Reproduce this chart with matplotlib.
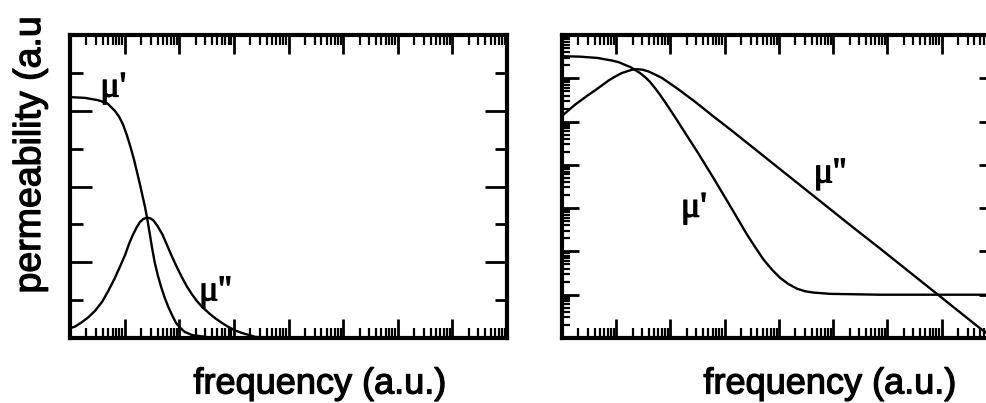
import numpy as np
import matplotlib.pyplot as plt
import matplotlib.patheffects as pe
from matplotlib.ticker import LogLocator, MultipleLocator, NullFormatter

# left panel: log10(frequency) and permeability (linear, a.u.)
left_logf_re = [0.0, 0.27, 0.51, 0.68, 0.82, 0.90, 0.97, 1.04, 1.10, 1.17, 1.23,
                1.28, 1.32, 1.37, 1.41, 1.45, 1.50, 1.55, 1.61, 1.67, 1.74, 1.80,
                1.87, 1.94, 2.01, 2.10, 2.23, 2.53, 3.11, 8.0]
left_mu_re = [3.18, 3.17, 3.14, 3.10, 3.00, 2.92, 2.82, 2.68, 2.54, 2.36, 2.18,
              2.03, 1.90, 1.74, 1.59, 1.42, 1.20, 1.00, 0.82, 0.67, 0.52, 0.41,
              0.30, 0.20, 0.14, 0.08, 0.04, 0.01, 0.0, 0.0]

left_logf_im = [0.0, 0.09, 0.20, 0.33, 0.46, 0.59, 0.70, 0.82, 0.92, 1.01, 1.09,
                1.15, 1.22, 1.28, 1.34, 1.41, 1.47, 1.53, 1.60, 1.69, 1.78, 1.87,
                1.96, 2.05, 2.14, 2.23, 2.32, 2.42, 2.54, 2.66, 2.78, 2.89, 3.02,
                3.15, 3.39, 3.66, 8.0]
left_mu_im = [0.13, 0.15, 0.20, 0.27, 0.36, 0.48, 0.62, 0.79, 0.95, 1.10, 1.26,
              1.36, 1.46, 1.53, 1.57, 1.59, 1.58, 1.55, 1.48, 1.37, 1.22, 1.07,
              0.93, 0.80, 0.68, 0.58, 0.49, 0.41, 0.33, 0.26, 0.20, 0.15, 0.10,
              0.066, 0.015, 0.0, 0.0]

# right panel: log10(frequency) and log10(permeability)
right_logf_re = [0.0, 0.33, 0.65, 0.92, 1.05, 1.16, 1.26, 1.35, 1.44, 1.53, 1.62,
                 1.71, 1.80, 1.90, 2.08, 2.32, 2.51, 2.78, 3.10, 3.41, 3.56, 3.71,
                 3.87, 4.02, 4.17, 4.33, 4.48, 4.63, 4.94, 5.86, 8.0]
right_logmu_re = [6.51, 6.50, 6.47, 6.41, 6.37, 6.31, 6.26, 6.19, 6.12, 6.03, 5.92,
                  5.78, 5.63, 5.45, 5.11, 4.64, 4.27, 3.72, 3.05, 2.39, 2.10, 1.82,
                  1.58, 1.39, 1.25, 1.14, 1.08, 1.05, 1.02, 1.0, 1.0]

right_logf_im = [0.0, 0.24, 0.48, 0.62, 0.74, 0.86, 0.98, 1.10, 1.22, 1.30, 1.38,
                 1.48, 1.59, 1.71, 1.84, 1.99, 2.14, 2.30, 2.45, 2.78, 3.13, 3.41,
                 4.02, 4.52, 4.94, 5.36, 5.86, 6.23, 6.73, 6.93, 7.34, 7.71, 7.95]
right_logmu_im = [5.13, 5.39, 5.61, 5.73, 5.84, 5.95, 6.04, 6.12, 6.17, 6.20, 6.21,
                  6.20, 6.16, 6.09, 6.01, 5.88, 5.75, 5.60, 5.46, 5.13, 4.79, 4.51,
                  3.90, 3.40, 2.98, 2.56, 2.07, 1.70, 1.20, 1.00, 0.59, 0.22, 0.0]

W, H = 987, 403
fig = plt.figure(figsize=(W / 100, H / 100), dpi=100)

ax1 = fig.add_axes([70 / W, (H - 338) / H, 437 / W, 303 / H])
ax2 = fig.add_axes([562 / W, (H - 338) / H, 434 / W, 303 / H])

ax1.plot(10 ** np.array(left_logf_re), left_mu_re, color='black', lw=1.7)
ax1.plot(10 ** np.array(left_logf_im), left_mu_im, color='black', lw=1.7)
ax1.set_xscale('log')
ax1.set_xlim(1, 1e8)
ax1.set_ylim(0, 4)
ax1.yaxis.set_major_locator(MultipleLocator(1))
ax1.yaxis.set_minor_locator(MultipleLocator(0.5))

ax2.plot(10 ** np.array(right_logf_re), 10 ** np.array(right_logmu_re), color='black', lw=1.7)
ax2.plot(10 ** np.array(right_logf_im), 10 ** np.array(right_logmu_im), color='black', lw=1.7)
ax2.set_xscale('log')
ax2.set_yscale('log')
ax2.set_xlim(1, 1e8)
ax2.set_ylim(1, 1e7)
ax2.yaxis.set_major_locator(LogLocator(base=10, numticks=20))
ax2.yaxis.set_minor_locator(LogLocator(base=10, subs=np.arange(2, 10), numticks=20))

for ax in (ax1, ax2):
    ax.xaxis.set_major_locator(LogLocator(base=10, numticks=20))
    ax.xaxis.set_minor_locator(LogLocator(base=10, subs=np.arange(2, 10), numticks=20))
    ax.xaxis.set_major_formatter(NullFormatter())
    ax.xaxis.set_minor_formatter(NullFormatter())
    ax.yaxis.set_major_formatter(NullFormatter())
    ax.yaxis.set_minor_formatter(NullFormatter())
    for s in ax.spines.values():
        s.set_linewidth(3)
    ax.tick_params(axis='x', which='major', direction='in', top=True, bottom=True,
                   length=14, width=2)
    ax.tick_params(axis='x', which='minor', direction='in', top=True, bottom=True,
                   length=7, width=1.6)

ax1.tick_params(axis='y', which='major', direction='in', left=True, right=True,
                length=16, width=2)
ax1.tick_params(axis='y', which='minor', direction='in', left=True, right=True,
                length=9, width=2)
ax2.tick_params(axis='y', which='major', direction='in', left=True, right=True,
                length=12, width=2)
ax2.tick_params(axis='y', which='minor', direction='in', left=True, right=True,
                length=6, width=1.6)

thick = [pe.withStroke(linewidth=0.9, foreground='black')]

mu_font = dict(family='Liberation Serif', fontsize=26, ha='center', va='center',
               path_effects=thick)
ax1.text(6.2, 3.30, "\u03bc'", **mu_font)
ax1.text(457, 0.61, "\u03bc''", **mu_font)
ax2.text(270, 1e3, "\u03bc'", **mu_font)
ax2.text(8.7e4, 6.2e3, "\u03bc''", **mu_font)

lab_font = dict(family='Liberation Sans', fontsize=26, path_effects=thick)
fig.text(320 / W, (H - 384) / H, 'frequency (a.u.)', ha='center', va='center', **lab_font)
fig.text(830 / W, (H - 384) / H, 'frequency (a.u.)', ha='center', va='center', **lab_font)
fig.text(30 / W, (H - 155) / H, 'permeability (a.u', rotation=90,
         ha='center', va='center', fontsize=27, family='Liberation Sans',
         path_effects=thick)

fig.savefig('out.png', dpi=100)
